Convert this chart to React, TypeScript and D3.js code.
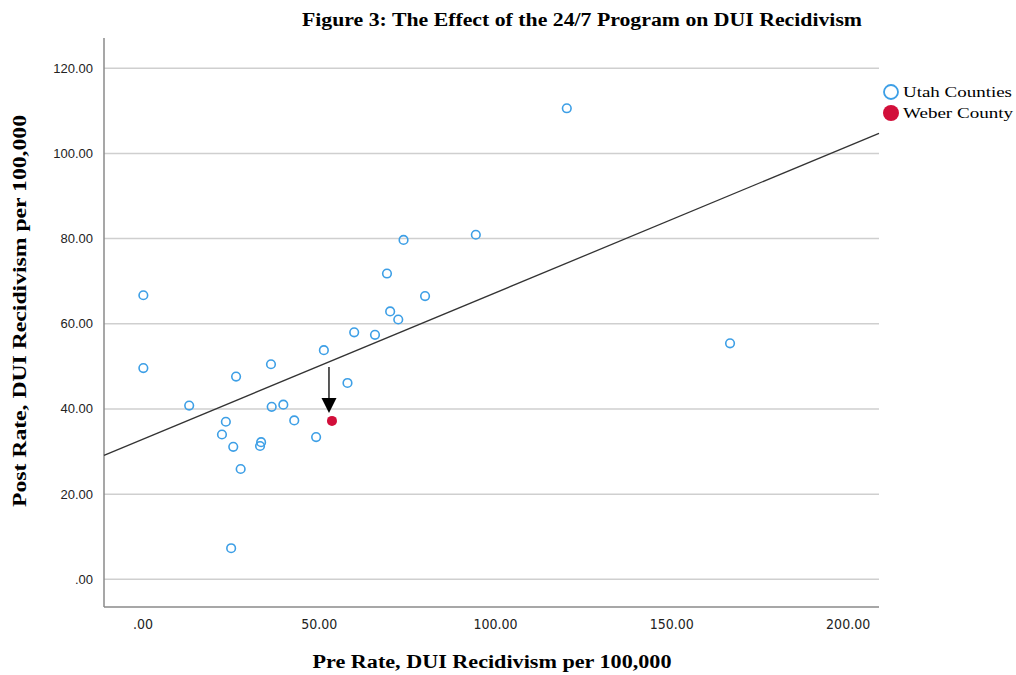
import React from "react";
import * as d3 from "d3";

// Utah counties: pre vs post DUI recidivism rate per 100,000
const preRate = [
  120.2, 94.4, 73.9, 69.2, 80.0, 0.1, 70.1, 72.4, 59.9, 65.8,
  0.1, 36.3, 51.3, 26.4, 58.0, 13.1, 36.5, 39.8, 42.9, 23.5,
  22.4, 49.1, 33.5, 33.2, 25.6, 27.7, 25.0, 166.5,
];
const postRate = [
  110.6, 80.9, 79.7, 71.8, 66.5, 66.7, 62.9, 61.0, 58.0, 57.4,
  49.6, 50.5, 53.8, 47.6, 46.1, 40.8, 40.5, 41.0, 37.3, 37.0,
  34.0, 33.4, 32.2, 31.3, 31.1, 25.9, 7.3, 55.4,
];
const weberPre = 53.6;
const weberPost = 37.2;

// fit line shown in figure
const fitIntercept = 32.9;
const fitSlope = 0.344;

const xTicks = [0, 50, 100, 150, 200];
const yTicks = [0, 20, 40, 60, 80, 100, 120];

const fmt = (v: number) => (v === 0 ? ".00" : v.toFixed(2));

const App = () => {
  const width = 1016;
  const height = 675;
  const plot = { left: 104, right: 879, top: 38, bottom: 607 };

  const x = d3.scaleLinear().domain([-11.06, 208.75]).range([plot.left, plot.right]);
  const y = d3.scaleLinear().domain([-6.5, 127.1]).range([plot.bottom, plot.top]);

  const fit = d3
    .line<number>()
    .x((d) => x(d))
    .y((d) => y(fitIntercept + fitSlope * d));

  const points = preRate.map((p, i) => ({ pre: p, post: postRate[i] }));

  const arrowX = x(weberPre) - 3;
  const arrowTop = y(weberPost) - 54;
  const arrowTip = y(weberPost) - 8;

  return (
    <svg
      width={width}
      height={height}
      style={{ position: "absolute", left: 0, top: 0, background: "#fff" }}
    >
      <text
        x={582}
        y={26}
        textAnchor="middle"
        fontFamily="Liberation Serif, serif"
        fontWeight="bold"
        fontSize={18}
        textLength={560}
        lengthAdjust="spacingAndGlyphs"
        fill="#000"
      >
        Figure 3: The Effect of the 24/7 Program on DUI Recidivism
      </text>

      {/* gridlines */}
      {yTicks.map((t) => (
        <line
          key={"g" + t}
          x1={plot.left}
          x2={plot.right}
          y1={y(t)}
          y2={y(t)}
          stroke="#cfcfcf"
          strokeWidth={1.5}
        />
      ))}

      {/* axes */}
      <line x1={plot.left} x2={plot.left} y1={plot.top} y2={plot.bottom} stroke="#8a8a8a" strokeWidth={1.5} />
      <line x1={plot.left} x2={plot.right} y1={plot.bottom} y2={plot.bottom} stroke="#8a8a8a" strokeWidth={1.5} />

      {yTicks.map((t) => (
        <text
          key={"yt" + t}
          x={93}
          y={y(t) + 4.5}
          textAnchor="end"
          fontFamily="Liberation Sans, Arial, sans-serif"
          fontSize={13}
          fill="#222"
        >
          {fmt(t)}
        </text>
      ))}
      {xTicks.map((t) => (
        <text
          key={"xt" + t}
          x={x(t)}
          y={629}
          textAnchor="middle"
          fontFamily="DejaVu Sans Condensed, DejaVu Sans, sans-serif"
          fontStretch="condensed"
          fontSize={14}
          fill="#222"
        >
          {fmt(t)}
        </text>
      ))}

      {/* fit line */}
      <path d={fit(x.domain()) || ""} fill="none" stroke="#333" strokeWidth={1.3} />

      {/* points */}
      {points.map((d, i) => (
        <circle
          key={i}
          cx={x(d.pre)}
          cy={y(d.post)}
          r={4.3}
          fill="none"
          stroke="#3d9fe6"
          strokeWidth={1.6}
        />
      ))}
      <circle cx={x(weberPre)} cy={y(weberPost)} r={5} fill="#d20f3a" />

      {/* arrow */}
      <line x1={arrowX} x2={arrowX} y1={arrowTop} y2={arrowTip - 14} stroke="#222" strokeWidth={1.5} />
      <path
        d={`M${arrowX - 7.5},${arrowTip - 15} L${arrowX + 7.5},${arrowTip - 15} L${arrowX},${arrowTip} Z`}
        fill="#000"
      />

      {/* axis titles */}
      <text
        x={492}
        y={668}
        textAnchor="middle"
        fontFamily="Liberation Serif, serif"
        fontWeight="bold"
        fontSize={18}
        textLength={359}
        lengthAdjust="spacingAndGlyphs"
        fill="#000"
      >
        Pre Rate, DUI Recidivism per 100,000
      </text>
      <text
        transform={`translate(26,311) rotate(-90)`}
        textAnchor="middle"
        fontFamily="Liberation Serif, serif"
        fontWeight="bold"
        fontSize={18}
        textLength={392}
        lengthAdjust="spacingAndGlyphs"
        fill="#000"
      >
        Post Rate, DUI Recidivism per 100,000
      </text>

      {/* legend */}
      <circle cx={891} cy={92} r={7} fill="none" stroke="#3d9fe6" strokeWidth={1.8} />
      <text x={903} y={97} fontFamily="Liberation Serif, serif" fontSize={14} textLength={109} lengthAdjust="spacingAndGlyphs" fill="#000">
        Utah Counties
      </text>
      <circle cx={891} cy={113} r={8} fill="#d20f3a" />
      <text x={903} y={118} fontFamily="Liberation Serif, serif" fontSize={14} textLength={110} lengthAdjust="spacingAndGlyphs" fill="#000">
        Weber County
      </text>
    </svg>
  );
};

export default App;
